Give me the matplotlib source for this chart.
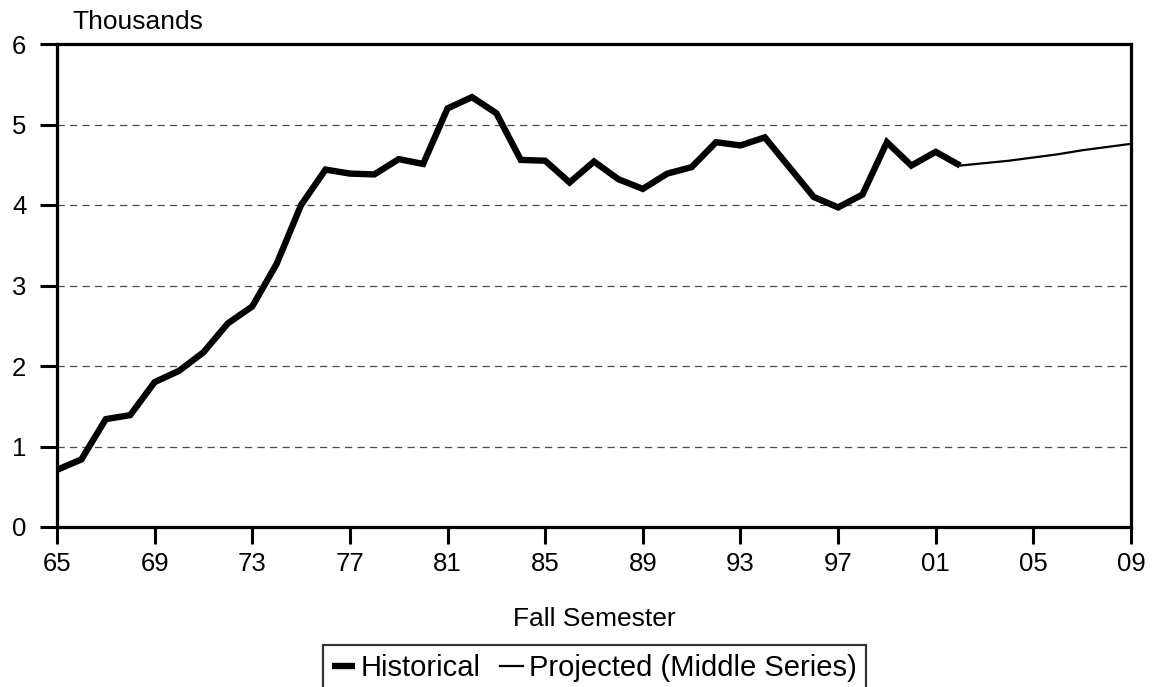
import matplotlib
matplotlib.use("Agg")
import matplotlib.pyplot as plt
from matplotlib.lines import Line2D

plt.rcParams['font.family'] = ['Liberation Sans', 'DejaVu Sans']
plt.rcParams['lines.scale_dashes'] = False

hist_years = list(range(1965, 2003))
hist_values = [0.71, 0.84, 1.34, 1.39, 1.80, 1.94, 2.17, 2.53, 2.74, 3.27,
               4.00, 4.44, 4.39, 4.38, 4.57, 4.51, 5.20, 5.34, 5.14, 4.56,
               4.55, 4.28, 4.54, 4.32, 4.20, 4.39, 4.47, 4.78, 4.74, 4.84,
               4.47, 4.10, 3.97, 4.13, 4.78, 4.49, 4.66, 4.49]
proj_years = list(range(2002, 2010))
proj_values = [4.49, 4.52, 4.55, 4.59, 4.63, 4.68, 4.72, 4.76]

xtick_years = list(range(1965, 2010, 4))
xtick_labels = ['65', '69', '73', '77', '81', '85', '89', '93', '97', '01', '05', '09']
yticks = [0, 1, 2, 3, 4, 5, 6]

W, H = 1154, 687
fig = plt.figure(figsize=(W / 100, H / 100), dpi=100)
ax = fig.add_axes([57 / W, (H - 527) / H, (1131 - 57) / W, (527 - 44) / H])

fs_tick = 18.5
fs = 19
fs_leg = 21
ax.plot(hist_years, hist_values, color='black', lw=4.6, solid_joinstyle='miter',
        solid_capstyle='butt', zorder=3)
ax.plot(proj_years, proj_values, color='black', lw=1.6, zorder=3)

ax.set_xlim(1965, 2009)
ax.set_ylim(0, 6)
ax.set_xticks(xtick_years)
ax.set_xticklabels(xtick_labels, fontsize=fs_tick)
ax.set_yticks(yticks)
ax.set_yticklabels([str(v) for v in yticks], fontsize=fs_tick)
ax.tick_params(axis='both', direction='out', length=12, width=2.2, color='black')
ax.tick_params(axis='x', pad=6)
ax.tick_params(axis='y', pad=10)

for s in ax.spines.values():
    s.set_linewidth(2.3)
    s.set_color('black')

for v in [1, 2, 3, 4, 5]:
    ax.axhline(v, color='#4a4a4a', lw=0.9, linestyle=(0, (5.2, 3.8)), zorder=1)

ax.set_xlabel('Fall Semester', fontsize=fs, labelpad=22)
fig.text(72 / W, 1 - 22 / H, 'Thousands', fontsize=fs, ha='left', va='center')

handles = [Line2D([], [], color='black', lw=4.6, solid_capstyle='butt'),
           Line2D([], [], color='black', lw=1.6)]
leg = fig.legend(handles, ['Historical', 'Projected (Middle Series)'],
                 loc='upper left', bbox_to_anchor=(323 / W, 1 - 645 / H),
                 ncol=2, fontsize=fs_leg, frameon=True, fancybox=False,
                 handlelength=0.8, handletextpad=0.2, columnspacing=0.65,
                 borderpad=0.3, borderaxespad=0)
leg.get_frame().set_edgecolor('black')
leg.get_frame().set_linewidth(1.6)

fig.savefig('out.png', dpi=100)
